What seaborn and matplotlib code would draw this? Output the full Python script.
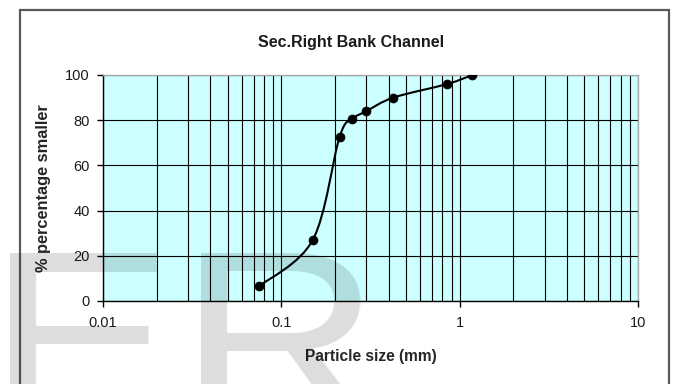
import numpy as np
import matplotlib
matplotlib.use("Agg")
import matplotlib.pyplot as plt
from matplotlib.path import Path
from matplotlib.patches import PathPatch, Rectangle
from matplotlib.ticker import FixedLocator, NullFormatter
import seaborn as sns
import pandas as pd

# Sieve analysis: particle size (mm) vs cumulative percentage passing
particle_size = [0.075, 0.15, 0.212, 0.25, 0.3, 0.425, 0.85, 1.18]
percent_smaller = [6.5, 27, 72.5, 80.5, 84, 90, 96, 100]
x_ticks = [0.01, 0.1, 1, 10]
x_tick_labels = ["0.01", "0.1", "1", "10"]
y_ticks = [0, 20, 40, 60, 80, 100]

sns.set_theme(style="white")
plt.rcParams["font.family"] = ["Liberation Sans", "DejaVu Sans"]

W, H = 683, 384
fig = plt.figure(figsize=(W / 100, H / 100), dpi=100)
ax = fig.add_axes([103 / W, 1 - 301 / H, (638 - 103) / W, (301 - 75) / H])
ax.set_facecolor("#CCFFFF")

df = pd.DataFrame({"size": particle_size, "pct": percent_smaller})

ax.set_xscale("log")
ax.set_xlim(0.01, 10)
ax.set_ylim(0, 100)

# smoothed curve through the points (cubic Bezier segments in log-x space)
lx = np.log10(df["size"].to_numpy())
py = df["pct"].to_numpy(dtype=float)
pts = np.column_stack([lx, py])
n = len(pts)
verts = [pts[0]]
codes = [Path.MOVETO]
for i in range(n - 1):
    p0 = pts[i - 1] if i > 0 else pts[i]
    p1 = pts[i]
    p2 = pts[i + 1]
    p3 = pts[i + 2] if i + 2 < n else pts[i + 1]
    c1 = p1 + (p2 - p0) / 6.0
    c2 = p2 - (p3 - p1) / 6.0
    verts += [c1, c2, p2]
    codes += [Path.CURVE4] * 3
verts = np.array(verts)
verts[:, 0] = 10 ** verts[:, 0]
ax.add_patch(PathPatch(Path(verts, codes), fill=False, edgecolor="black",
                       lw=1.5, transform=ax.transData, zorder=3))

sns.scatterplot(data=df, x="size", y="pct", ax=ax, color="black", s=42,
                marker="o", edgecolor="black", linewidth=0.5, zorder=4,
                legend=False)

# gridlines: every 2..9 within each decade, and every 20 %
minor_x = [m * 10.0 ** e for e in (-2, -1, 0) for m in range(2, 10)]
ax.set_xticks(x_ticks)
ax.set_xticklabels(x_tick_labels)
ax.xaxis.set_minor_locator(FixedLocator(minor_x))
ax.xaxis.set_minor_formatter(NullFormatter())
ax.set_yticks(y_ticks)
ax.grid(which="both", axis="x", color="black", lw=0.8)
ax.grid(which="major", axis="y", color="black", lw=0.8)
ax.set_axisbelow(True)

ax.tick_params(axis="x", which="major", direction="out", length=4.5, width=1,
               color="black", pad=6, labelsize=10.5, labelcolor="#1a1a1a",
               bottom=True)
ax.tick_params(axis="x", which="minor", length=0)
ax.tick_params(axis="y", direction="out", length=4.5, width=1, color="black",
               pad=5, labelsize=10.5, labelcolor="#1a1a1a", left=True)

for side in ("left", "bottom"):
    ax.spines[side].set_color("black")
    ax.spines[side].set_linewidth(1.0)
for side in ("top", "right"):
    ax.spines[side].set_color("#a8a8a8")
    ax.spines[side].set_linewidth(1.0)

ax.set_xlabel("Particle size (mm)", fontsize=11.2, fontweight="bold",
              va="center")
ax.xaxis.set_label_coords(0.5, (301 - 357) / 226)
ax.set_ylabel("% percentage smaller", fontsize=11.8, fontweight="bold",
              va="center")
ax.yaxis.set_label_coords((44 - 103) / 535, 0.5)

fig.text(351 / W, 1 - 42 / H, "Sec.Right Bank Channel", ha="center",
         va="center", fontsize=11.5, fontweight="bold", color="#1a1a1a")

# chart border
fig.patches.append(Rectangle((20 / W, -0.2), (669 - 20) / W, 1.2 - 10 / H,
                             transform=fig.transFigure, fill=False,
                             edgecolor="#5a5a5a", lw=1.6, zorder=-1))


def wide_translucent(k, alpha):
    # widen the rendered glyph horizontally and make it see-through
    def f(img, dpi):
        h, w, _ = img.shape
        nw = max(1, int(round(w * k)))
        src = np.clip((np.arange(nw) + 0.5) / k - 0.5, 0, w - 1)
        i0 = np.floor(src).astype(int)
        i1 = np.minimum(i0 + 1, w - 1)
        fr = (src - i0)[None, :, None]
        out = img[:, i0, :] * (1 - fr) + img[:, i1, :] * fr
        out[..., 3] *= alpha
        return out, 0, 0
    return f


# large translucent lettering across the lower left
for letter, xl in (("E", -10), ("R", 181)):
    t = fig.text(xl / W, (384 - 421) / H, letter, ha="left", va="baseline",
                 fontsize=176, color="black", zorder=10)
    t.set_agg_filter(wide_translucent(1.15, 0.135))

fig.savefig("out.png", dpi=100)
